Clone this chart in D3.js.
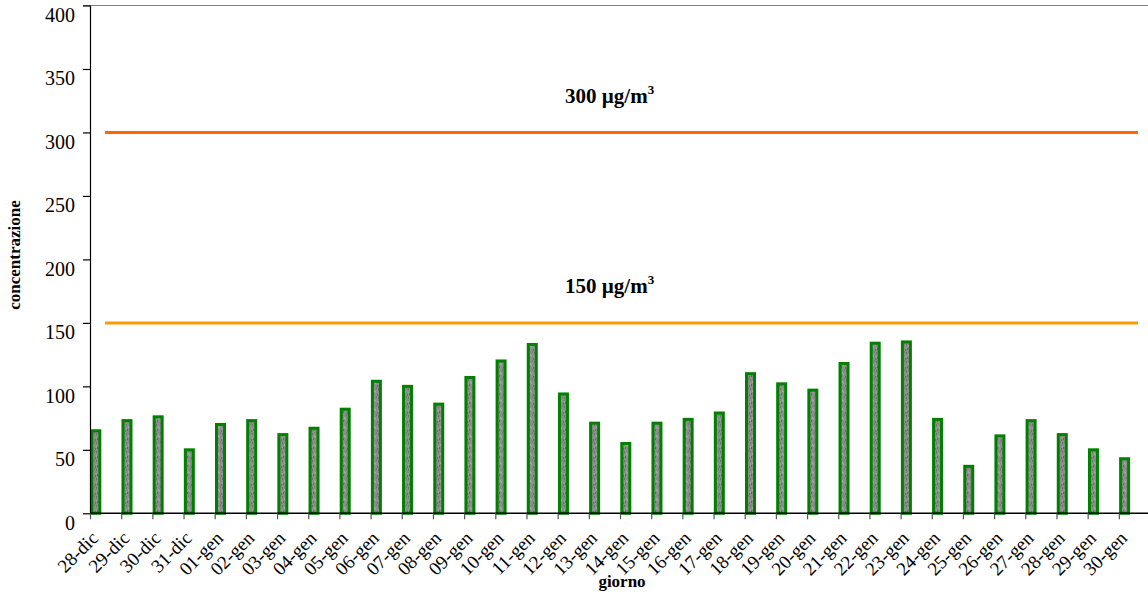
<!DOCTYPE html>
<html>
<head>
<meta charset="utf-8">
<script src="https://cdn.jsdelivr.net/npm/d3@7"></script>
<style>
  html, body { margin: 0; padding: 0; background: #fff; }
  svg { display: block; font-family: "Liberation Serif", "Times New Roman", serif; }
</style>
</head>
<body>
<svg id="chart" width="1148" height="596"></svg>
<script>
// Giorni di misura
const days = ["28-dic","29-dic","30-dic","31-dic","01-gen","02-gen","03-gen","04-gen","05-gen",
  "06-gen","07-gen","08-gen","09-gen","10-gen","11-gen","12-gen","13-gen","14-gen","15-gen",
  "16-gen","17-gen","18-gen","19-gen","20-gen","21-gen","22-gen","23-gen","24-gen","25-gen",
  "26-gen","27-gen","28-gen","29-gen","30-gen"];

// Concentrazione media giornaliera
const concentration = [65,73,76,50,70,73,62,67,82,104,100,86,107,120,133,94,71,55,71,74,79,110,102,97,118,134,135,74,37,61,73,62,50,43];

// Soglie di riferimento
const thresholds = [300, 150];
const thresholdColors = ["#ff6600", "#ff9900"];

const yTicks = [0,50,100,150,200,250,300,350,400];

const svg = d3.select("#chart");
const plotLeft = 90, plotRight = 1150, plotTop = 5.5, plotBottom = 513.3;

const x = d3.scaleBand().domain(days).range([plotLeft, plotRight]).padding(0);
const y = d3.scaleLinear().domain([0, 400]).range([plotBottom, plotTop]);

// Texture grigia delle barre
const defs = svg.append("defs");
const pat = defs.append("pattern").attr("id", "tex")
  .attr("patternUnits", "userSpaceOnUse").attr("width", 6).attr("height", 9);
pat.append("rect").attr("width", 6).attr("height", 9).attr("fill", "#8c8c8c");
[[0,1,"#727272"],[3,4,"#a0a0a0"],[1,6,"#666"],[4,0,"#7a7a7a"],[2,3,"#a5a5a5"],[5,7,"#6e6e6e"],[0,5,"#9a9a9a"]]
  .forEach(([px, py, c]) => pat.append("rect").attr("x", px).attr("y", py)
    .attr("width", 1).attr("height", 2).attr("fill", c));

// Bordo superiore dell'area del grafico
svg.append("line").attr("x1", 83).attr("x2", 1148).attr("y1", y(400)).attr("y2", y(400))
  .attr("stroke", "#808080").attr("stroke-width", 1.2);

// Barre
svg.append("g").selectAll("rect").data(days).join("rect")
  .attr("x", d => x(d) + 1.8)
  .attr("y", (d, i) => y(concentration[i]))
  .attr("width", 8)
  .attr("height", (d, i) => y(0) - y(concentration[i]))
  .attr("fill", "url(#tex)")
  .attr("stroke", "#008000")
  .attr("stroke-width", 3);

// Linee di soglia
svg.append("g").selectAll("line").data(thresholds).join("line")
  .attr("x1", 105).attr("x2", 1138)
  .attr("y1", d => y(d)).attr("y2", d => y(d))
  .attr("stroke", (d, i) => thresholdColors[i])
  .attr("stroke-width", 3);

svg.append("g").selectAll("text").data(thresholds).join("text")
  .attr("x", 565).attr("y", d => y(d) - 29.5)
  .attr("font-size", 21).attr("font-weight", "bold").attr("fill", "#000")
  .each(function(d) {
    const t = d3.select(this);
    t.append("tspan").text(d + " \u00b5g/m");
    t.append("tspan").attr("dy", -9).attr("font-size", 13).text("3");
  });

// Asse Y
const yAxis = svg.append("g").attr("transform", `translate(${plotLeft},0)`)
  .call(d3.axisLeft(y).tickValues(yTicks).tickSize(7).tickPadding(8).tickFormat(d3.format("d")));
yAxis.select(".domain").attr("stroke", "#000").attr("stroke-width", 1.2).attr("d", `M0.5,${y(400)}V${y(0)}`);
yAxis.selectAll(".tick line").attr("stroke", "#000").attr("stroke-width", 1.2);
yAxis.selectAll(".tick text").attr("font-size", 20).attr("fill", "#000")
  .attr("font-family", "Liberation Serif, serif").attr("y", 9).attr("dy", "0.35em");

// Asse X
const xAxis = svg.append("g").attr("transform", `translate(0,${plotBottom})`);
xAxis.append("line").attr("x1", plotLeft).attr("x2", 1148).attr("y1", 0).attr("y2", 0)
  .attr("stroke", "#000").attr("stroke-width", 1.5);
xAxis.selectAll(".tk").data(days).join("line").attr("class", "tk")
  .attr("x1", d => x(d) + 0.5).attr("x2", d => x(d) + 0.5)
  .attr("y1", 0).attr("y2", 6).attr("stroke", "#555").attr("stroke-width", 1.2);
xAxis.selectAll(".lbl").data(days).join("text").attr("class", "lbl")
  .attr("transform", d => `translate(${x(d) + 9.5},${26}) rotate(-45)`)
  .attr("text-anchor", "end").attr("font-size", 19).attr("fill", "#000")
  .text(d => d);

// Titoli degli assi
svg.append("text").attr("x", 622).attr("y", 587).attr("text-anchor", "middle")
  .attr("font-size", 17).attr("font-weight", "bold").text("giorno");
svg.append("text").attr("transform", "translate(20,255) rotate(-90)")
  .attr("text-anchor", "middle").attr("font-size", 17).attr("font-weight", "bold")
  .text("concentrazione");
</script>
</body>
</html>
